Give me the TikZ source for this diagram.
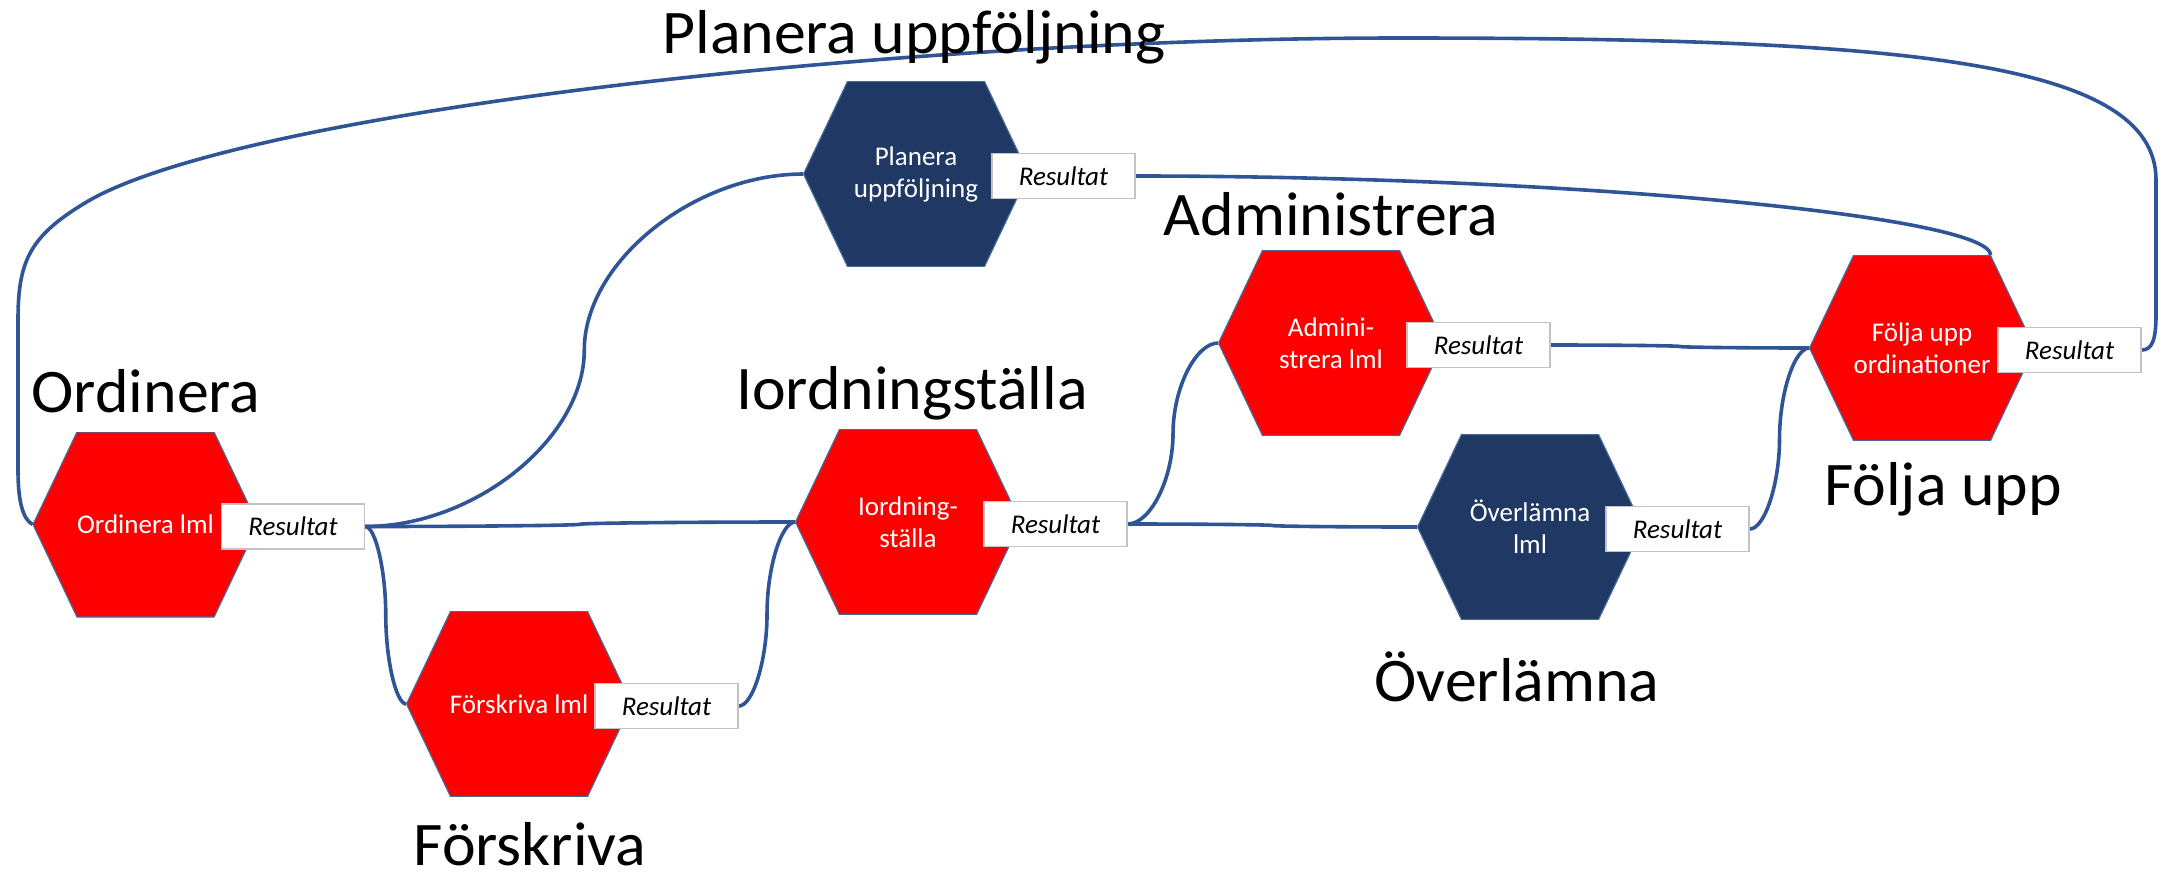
\documentclass[tikz,border=0pt]{standalone}
\usepackage{fontspec}
\setmainfont{Carlito}
\newfontfamily\headfont{Carlito}[FakeStretch=1.03]
\usetikzlibrary{calc}
\pgfdeclarelayer{background}
\pgfsetlayers{background,main}

\definecolor{hexred}{RGB}{255,0,0}
\definecolor{hexnavy}{RGB}{31,56,100}
\definecolor{hexedge}{RGB}{70,105,155}
\definecolor{linkblue}{RGB}{47,85,151}
\definecolor{boxedge}{RGB}{195,195,195}

\tikzset{
  hex/.style={minimum width=225pt, minimum height=185pt, inner sep=0pt,
    text=white, font=\fontsize{27}{32}\selectfont, align=center,
    path picture={\fill[#1, draw=hexedge, line width=1.2pt]
      (path picture bounding box.west)
      -- ([xshift=44pt]path picture bounding box.north west)
      -- ([xshift=-44pt]path picture bounding box.north east)
      -- (path picture bounding box.east)
      -- ([xshift=-44pt]path picture bounding box.south east)
      -- ([xshift=44pt]path picture bounding box.south west) -- cycle;}},
  result/.style={draw=boxedge, line width=1.5pt, fill=white,
    minimum width=143pt, minimum height=45pt, inner sep=0pt,
    font=\fontsize{27}{32}\selectfont\itshape},
  title/.style={anchor=base, inner sep=0pt, text depth=0pt,
    font=\headfont\fontsize{62}{72}\selectfont},
  wire/.style={draw=linkblue, line width=3.6pt},
  % horizontal start, vertical middle, horizontal end
  ppc/.style={to path={let \p1=(\tikztostart), \p2=(\tikztotarget) in
    .. controls ({0.75*\x1+0.25*\x2},\y1) and ({0.5*\x1+0.5*\x2},{0.75*\y1+0.25*\y2})
    .. ({0.5*\x1+0.5*\x2},{0.5*\y1+0.5*\y2})
    .. controls ({0.5*\x1+0.5*\x2},{0.25*\y1+0.75*\y2}) and ({0.25*\x1+0.75*\x2},\y2)
    .. (\tikztotarget)}},
  % horizontal start, vertical end
  ppl/.style={to path={let \p1=(\tikztostart), \p2=(\tikztotarget) in
    .. controls ({0.5*\x1+0.5*\x2},\y1) and (\x2,{0.5*\y1+0.5*\y2})
    .. (\tikztotarget)}}
}

\begin{document}
\begin{tikzpicture}[x=1pt,y=-1pt]
\useasboundingbox (0,0) rectangle (2173,873);

% process steps
\node[hex=hexred]  (ord)   at (145.5,524.5) {Ordinera lml};
\node[hex=hexnavy] (plan)  at (916,174)     {Planera\\uppföljning};
\node[hex=hexred]  (forsk) at (519,704)     {Förskriva lml};
\node[hex=hexred]  (iord)  at (908,522)     {Iordning-\\ställa};
\node[hex=hexred]  (adm)   at (1331,343)    {Admini-\\strera lml};
\node[hex=hexred]  (folj)  at (1922,348)    {Följa upp\\ordinationer};
\node[hex=hexnavy] (over)  at (1530,527)    {Överlämna\\lml};

% result boxes
\node[result] (ordR)   at (293,526.5)  {Resultat};
\node[result] (planR)  at (1063.5,176) {Resultat};
\node[result] (forskR) at (666.5,706)  {Resultat};
\node[result] (iordR)  at (1055.5,524) {Resultat};
\node[result] (admR)   at (1478.5,345) {Resultat};
\node[result] (foljR)  at (2069.5,350) {Resultat};
\node[result] (overR)  at (1677.5,529) {Resultat};

\coordinate (foljTR) at ([xshift=-44pt]folj.north east);

% headings
\node[title] (tPlan)  at (914,53)   {Planera uppföljning};
\node[title] (tOrd)   at (146,412)  {Ordinera};
\node[title] (tIord)  at (912,409)  {Iordningställa};
\node[title] (tAdm)   at (1331,235) {Administrera};
\node[title] (tFolj)  at (1943,505) {Följa upp};
\node[title] (tOver)  at (1517,701) {Överlämna};
\node[title] (tForsk) at (530,865)  {Förskriva};

% connectors
\begin{pgfonlayer}{background}
\draw[wire] (ordR.east) to[ppc] (iord.west);
\draw[wire] (ordR.east) to[ppc] (plan.west);
\draw[wire] (ordR.east) to[ppc] (forsk.west);
\draw[wire] (forskR.east) to[ppc] (iord.west);
\draw[wire] (iordR.east) to[ppc] (adm.west);
\draw[wire] (iordR.east) to[ppc] (over.west);
\draw[wire] (admR.east) to[ppc] (folj.west);
\draw[wire] (overR.east) to[ppc] (folj.west);
\draw[wire] (planR.east) to[ppl] (foljTR);
\draw[wire] (foljR.east) .. controls (2152,350) and (2156,340) .. (2156,315)
  -- (2156,180)
  .. controls (2156,60) and (1900,38) .. (1400,38)
  .. controls (900,38) and (250,110) .. (90,200)
  .. controls (30,235) and (18,260) .. (18,320)
  -- (18,470)
  .. controls (18,505) and (24,520) .. (ord.west);
\end{pgfonlayer}
\end{tikzpicture}
\end{document}
